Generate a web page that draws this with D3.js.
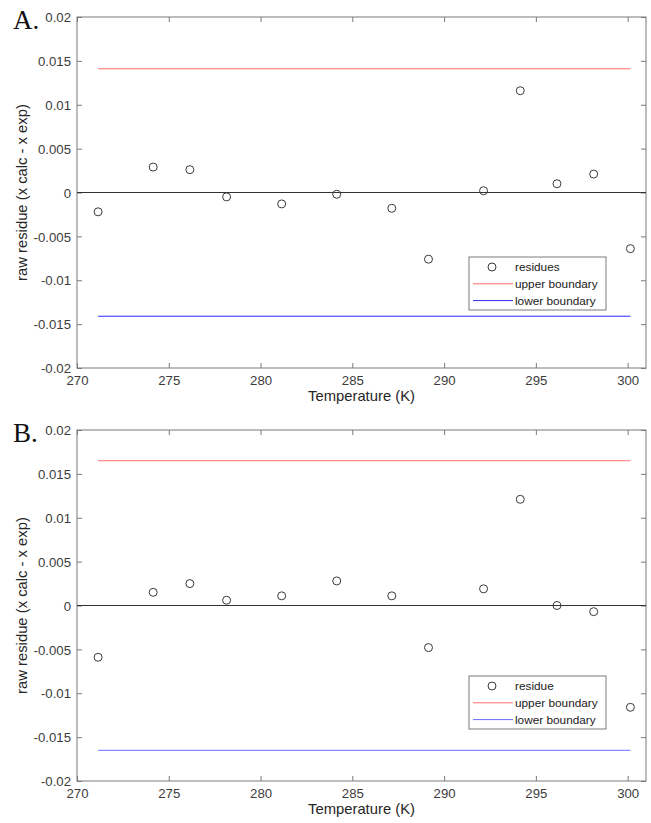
<!DOCTYPE html>
<html>
<head>
<meta charset="utf-8">
<script src="https://cdn.jsdelivr.net/npm/d3@7"></script>
<style>
  body { margin: 0; background: #fff; }
  svg { display: block; font-family: "Liberation Sans", Arial, sans-serif; }
</style>
</head>
<body>
<svg id="chart" width="651" height="823"></svg>
<script>
// data
var temps = [271.15, 274.15, 276.15, 278.15, 281.15, 284.15, 287.15, 289.15, 292.15, 294.15, 296.15, 298.15, 300.15];
var residA = [-0.0022, 0.0029, 0.0026, -0.0005, -0.0013, -0.0002, -0.0018, -0.0076, 0.0002, 0.0116, 0.0010, 0.0021, -0.0064];
var residB = [-0.0059, 0.0015, 0.0025, 0.0006, 0.0011, 0.0028, 0.0011, -0.0048, 0.0019, 0.0121, 0.0000, -0.0007, -0.0116];
var boundA = 0.0141;
var boundB = 0.0165;
var xTicks = [270, 275, 280, 285, 290, 295, 300];
var yTicks = [-0.02, -0.015, -0.01, -0.005, 0, 0.005, 0.01, 0.015, 0.02];

var svg = d3.select("#chart");

var left = 77, right = 646, plotH = 351;

var x = d3.scaleLinear().domain([270, 301]).range([left, right]);

function fmt(d) {
	return String(+d.toFixed(3));
}

function panel(top, label, resid, bound, legendName, legendTop, upColor, lowColor) {
	var y = d3.scaleLinear().domain([-0.02, 0.02]).range([top + plotH, top]);
	var g = svg.append("g");

	// panel letter
	g.append("text")
		.attr("x", 13)
		.attr("y", top + 12)
		.attr("font-family", "Liberation Serif, Times New Roman, serif")
		.attr("font-size", 27)
		.attr("fill", "#111")
		.text(label);

	// bottom / left axes with labels, ticks pointing inward
	var xa = g.append("g")
		.attr("transform", "translate(0," + (top + plotH) + ")")
		.call(d3.axisBottom(x).tickValues(xTicks).tickSizeInner(-5).tickSizeOuter(0).tickPadding(8).tickFormat(d3.format("d")));
	var ya = g.append("g")
		.attr("transform", "translate(" + left + ",0)")
		.call(d3.axisLeft(y).tickValues(yTicks).tickSizeInner(-5).tickSizeOuter(0).tickPadding(6).tickFormat(fmt));
	// mirrored top / right ticks
	var xt = g.append("g")
		.attr("transform", "translate(0," + top + ")")
		.call(d3.axisTop(x).tickValues(xTicks).tickSizeInner(-5).tickSizeOuter(0).tickFormat(""));
	var yr = g.append("g")
		.attr("transform", "translate(" + right + ",0)")
		.call(d3.axisRight(y).tickValues(yTicks).tickSizeInner(-5).tickSizeOuter(0).tickFormat(""));

	[xa, ya, xt, yr].forEach(function(a) {
		a.select(".domain").remove();
		a.selectAll("line").attr("stroke", "#7a7a7a");
		a.selectAll("text")
			.attr("fill", "#3c3c3c")
			.attr("font-size", 13.2)
			.attr("font-family", "Liberation Sans, Arial, sans-serif");
	});
	ya.selectAll("text").attr("dy", "0.35em");

	// box
	g.append("rect")
		.attr("x", left)
		.attr("y", top)
		.attr("width", right - left)
		.attr("height", plotH)
		.attr("fill", "none")
		.attr("stroke", "#7a7a7a")
		.attr("stroke-width", 1);

	// zero line
	g.append("line")
		.attr("x1", x(270))
		.attr("x2", x(301))
		.attr("y1", y(0))
		.attr("y2", y(0))
		.attr("stroke", "#333")
		.attr("stroke-width", 1);

	var xmin = d3.min(temps), xmax = d3.max(temps);
	// boundaries
	g.append("line")
		.attr("x1", x(xmin)).attr("x2", x(xmax))
		.attr("y1", y(bound)).attr("y2", y(bound))
		.attr("stroke", upColor).attr("stroke-width", 1);
	g.append("line")
		.attr("x1", x(xmin)).attr("x2", x(xmax))
		.attr("y1", y(-bound)).attr("y2", y(-bound))
		.attr("stroke", lowColor).attr("stroke-width", 1);

	// residue markers
	g.append("g")
		.selectAll("circle")
		.data(resid)
		.enter()
		.append("circle")
		.attr("cx", function(d, i) { return x(temps[i]); })
		.attr("cy", function(d) { return y(d); })
		.attr("r", 4)
		.attr("fill", "none")
		.attr("stroke", "#3a3a3a")
		.attr("stroke-width", 1);

	// axis labels
	g.append("text")
		.attr("x", (left + right) / 2)
		.attr("y", top + plotH + 33)
		.attr("text-anchor", "middle")
		.attr("font-size", 14.8)
		.attr("fill", "#262626")
		.text("Temperature (K)");
	g.append("text")
		.attr("transform", "translate(27," + (top + plotH / 2) + ") rotate(-90)")
		.attr("text-anchor", "middle")
		.attr("font-size", 14.8)
		.attr("fill", "#262626")
		.text("raw residue (x calc - x exp)");

	// legend
	var lx = 469, lw = 137, lh = 53;
	var lg = g.append("g").attr("transform", "translate(" + lx + "," + legendTop + ")");
	lg.append("rect")
		.attr("width", lw).attr("height", lh)
		.attr("fill", "#fff").attr("stroke", "#7a7a7a").attr("stroke-width", 1);
	var items = [
		{ name: legendName, type: "circle", color: "#3a3a3a" },
		{ name: "upper boundary", type: "line", color: upColor },
		{ name: "lower boundary", type: "line", color: lowColor }
	];
	items.forEach(function(it, i) {
		var cy = 10 + i * 16.8;
		if (it.type === "circle") {
			lg.append("circle")
				.attr("cx", 23).attr("cy", cy).attr("r", 4)
				.attr("fill", "none").attr("stroke", it.color);
		} else {
			lg.append("line")
				.attr("x1", 4).attr("x2", 44).attr("y1", cy).attr("y2", cy)
				.attr("stroke", it.color).attr("stroke-width", 1);
		}
		lg.append("text")
			.attr("x", 46).attr("y", cy)
			.attr("dy", "0.35em")
			.attr("font-size", 11.8)
			.attr("fill", "#1a1a1a")
			.text(it.name);
	});
}

panel(17, "A.", residA, boundA, "residues", 257, "#ff6a6a", "#2a2aff");
panel(430, "B.", residB, boundB, "residue", 676, "#ff7070", "#6b6bff");
</script>
</body>
</html>
